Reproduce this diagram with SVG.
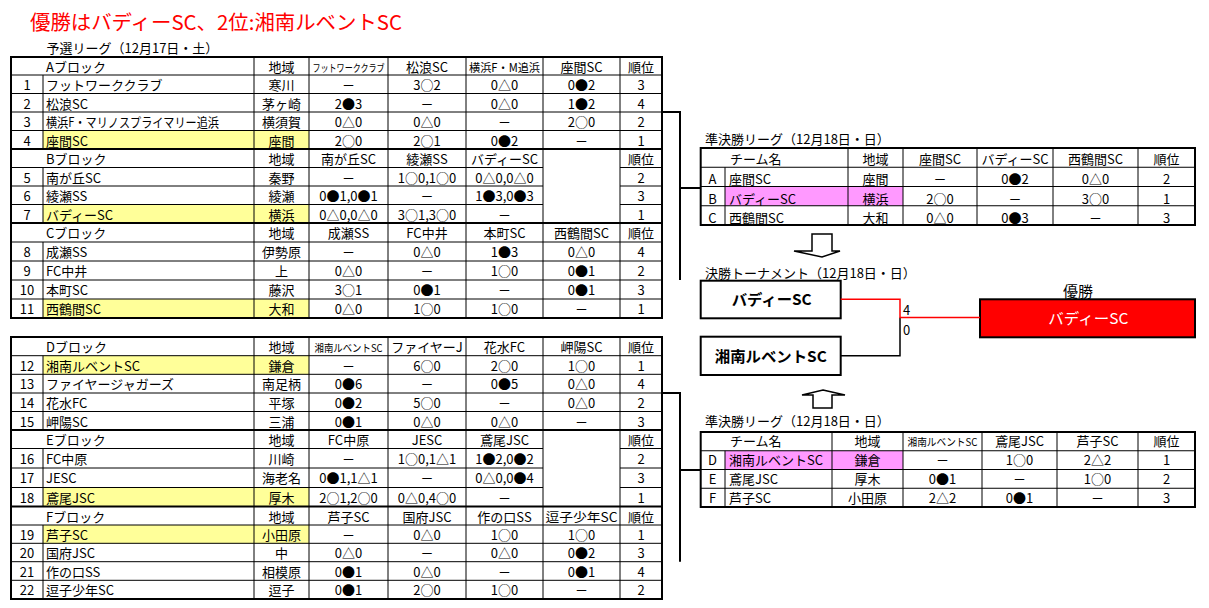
<svg xmlns="http://www.w3.org/2000/svg" width="1209" height="608" viewBox="0 0 1209 608">
<style>
text{font-family:"Noto Sans CJK JP","Liberation Sans",sans-serif;font-size:13px;fill:#000}
.c{text-anchor:middle}
.thin{stroke:#000;stroke-width:1;fill:none}
.thick{stroke:#000;stroke-width:2;fill:none}
.yel{fill:#FFFF99}
.pink{fill:#FF99FF}
.box{fill:#fff;stroke:#000;stroke-width:2}
.bx{font-weight:bold;font-size:15px}
</style>
<rect width="1209" height="608" fill="#fff"/>
<g id="title">
<text x="30" y="30" style="font-size:20px;fill:#FF0000" textLength="372" lengthAdjust="spacingAndGlyphs">優勝はバディーSC、2位:湘南ルベントSC</text>
<text x="46.5" y="53">予選リーグ（12月17日・土）</text>
</g>

<g id="league-top">
<rect class="yel" x="43" y="130.5" width="266" height="18.5"/>
<rect class="yel" x="43" y="204.5" width="266" height="18.5"/>
<rect class="yel" x="43" y="299" width="266" height="19"/>
<path class="thin" d="M11,75H662M11,93.5H662M11,112H662M11,130.5H662M11,167.5H543M620,167.5H662M11,186H543M620,186H662M11,204.5H543M620,204.5H662M11,242H662M11,261H662M11,280H662M11,299H662M43,75V149M43,167.5V223M43,242V318M254,57V318M309,57V318M388,57V318M466,57V318M543,57V318M620,57V318"/>
<path class="thick" d="M11,149H662M11,223H662"/>
<rect class="thick" x="11" y="57" width="651" height="261"/>
<!-- A block -->
<text x="46" y="72">Aブロック</text>
<text class="c" x="281.5" y="72">地域</text>
<text class="c" x="348.5" y="72" style="font-size:10.5px" textLength="72" lengthAdjust="spacingAndGlyphs">フットワーククラブ</text>
<text class="c" x="427" y="72">松浪SC</text>
<text class="c" x="504.5" y="72" style="font-size:11.5px" textLength="71" lengthAdjust="spacingAndGlyphs">横浜F・M追浜</text>
<text class="c" x="581.5" y="72">座間SC</text>
<text class="c" x="641" y="72">順位</text>

<text class="c" x="27" y="90">1</text><text x="46" y="90">フットワーククラブ</text><text class="c" x="281.5" y="90">寒川</text>
<text class="c" x="348.5" y="90">－</text><text class="c" x="427" y="90">3○2</text><text class="c" x="504.5" y="90">0△0</text><text class="c" x="581.5" y="90">0●2</text><text class="c" x="641" y="90">3</text>

<text class="c" x="27" y="108.5">2</text><text x="46" y="108.5">松浪SC</text><text class="c" x="281.5" y="108.5">茅ヶ崎</text>
<text class="c" x="348.5" y="108.5">2●3</text><text class="c" x="427" y="108.5">－</text><text class="c" x="504.5" y="108.5">0△0</text><text class="c" x="581.5" y="108.5">1●2</text><text class="c" x="641" y="108.5">4</text>

<text class="c" x="27" y="127">3</text><text x="46" y="127" textLength="173" lengthAdjust="spacingAndGlyphs">横浜F・マリノスプライマリー追浜</text><text class="c" x="281.5" y="127">横須賀</text>
<text class="c" x="348.5" y="127">0△0</text><text class="c" x="427" y="127">0△0</text><text class="c" x="504.5" y="127">－</text><text class="c" x="581.5" y="127">2○0</text><text class="c" x="641" y="127">2</text>

<text class="c" x="27" y="145.5">4</text><text x="46" y="145.5">座間SC</text><text class="c" x="281.5" y="145.5">座間</text>
<text class="c" x="348.5" y="145.5">2○0</text><text class="c" x="427" y="145.5">2○1</text><text class="c" x="504.5" y="145.5">0●2</text><text class="c" x="581.5" y="145.5">－</text><text class="c" x="641" y="145.5">1</text>
<!-- B block -->
<text x="46" y="164">Bブロック</text>
<text class="c" x="281.5" y="164">地域</text>
<text class="c" x="348.5" y="164">南が丘SC</text>
<text class="c" x="427" y="164">綾瀬SS</text>
<text class="c" x="504.5" y="164">バディーSC</text>
<text class="c" x="641" y="164">順位</text>

<text class="c" x="27" y="182.5">5</text><text x="46" y="182.5">南が丘SC</text><text class="c" x="281.5" y="182.5">秦野</text>
<text class="c" x="348.5" y="182.5">－</text><text class="c" x="427" y="182.5">1○0,1○0</text><text class="c" x="504.5" y="182.5">0△0,0△0</text><text class="c" x="641" y="182.5">2</text>

<text class="c" x="27" y="201">6</text><text x="46" y="201">綾瀬SS</text><text class="c" x="281.5" y="201">綾瀬</text>
<text class="c" x="348.5" y="201">0●1,0●1</text><text class="c" x="427" y="201">－</text><text class="c" x="504.5" y="201">1●3,0●3</text><text class="c" x="641" y="201">3</text>

<text class="c" x="27" y="219.5">7</text><text x="46" y="219.5">バディーSC</text><text class="c" x="281.5" y="219.5">横浜</text>
<text class="c" x="348.5" y="219.5">0△0,0△0</text><text class="c" x="427" y="219.5">3○1,3○0</text><text class="c" x="504.5" y="219.5">－</text><text class="c" x="641" y="219.5">1</text>
<!-- C block -->
<text x="46" y="238">Cブロック</text>
<text class="c" x="281.5" y="238">地域</text>
<text class="c" x="348.5" y="238">成瀬SS</text>
<text class="c" x="427" y="238">FC中井</text>
<text class="c" x="504.5" y="238">本町SC</text>
<text class="c" x="581.5" y="238">西鶴間SC</text>
<text class="c" x="641" y="238">順位</text>

<text class="c" x="27" y="257">8</text><text x="46" y="257">成瀬SS</text><text class="c" x="281.5" y="257">伊勢原</text>
<text class="c" x="348.5" y="257">－</text><text class="c" x="427" y="257">0△0</text><text class="c" x="504.5" y="257">1●3</text><text class="c" x="581.5" y="257">0△0</text><text class="c" x="641" y="257">4</text>

<text class="c" x="27" y="276">9</text><text x="46" y="276">FC中井</text><text class="c" x="281.5" y="276">上</text>
<text class="c" x="348.5" y="276">0△0</text><text class="c" x="427" y="276">－</text><text class="c" x="504.5" y="276">1○0</text><text class="c" x="581.5" y="276">0●1</text><text class="c" x="641" y="276">2</text>

<text class="c" x="27" y="295">10</text><text x="46" y="295">本町SC</text><text class="c" x="281.5" y="295">藤沢</text>
<text class="c" x="348.5" y="295">3○1</text><text class="c" x="427" y="295">0●1</text><text class="c" x="504.5" y="295">－</text><text class="c" x="581.5" y="295">0●1</text><text class="c" x="641" y="295">3</text>

<text class="c" x="27" y="314">11</text><text x="46" y="314">西鶴間SC</text><text class="c" x="281.5" y="314">大和</text>
<text class="c" x="348.5" y="314">0△0</text><text class="c" x="427" y="314">1○0</text><text class="c" x="504.5" y="314">1○0</text><text class="c" x="581.5" y="314">－</text><text class="c" x="641" y="314">1</text>
</g>

<g id="league-bottom">
<rect class="yel" x="43" y="355.7" width="266" height="18.6"/>
<rect class="yel" x="43" y="487.5" width="266" height="19"/>
<rect class="yel" x="43" y="525" width="266" height="18.3"/>
<path class="thin" d="M11,355.7H662M11,374.3H662M11,393H662M11,411.5H662M11,448.5H543M620,448.5H662M11,468H543M620,468H662M11,487.5H543M620,487.5H662M11,525H662M11,543.3H662M11,561.7H662M11,580.3H662M43,355.7V430M43,448.5V506.5M43,525V599M254,337V599M309,337V599M388,337V599M466,337V599M543,337V599M620,337V599"/>
<path class="thick" d="M11,430H662M11,506.5H662"/>
<rect class="thick" x="11" y="337" width="651" height="262"/>
<!-- D block -->
<text x="46" y="352">Dブロック</text>
<text class="c" x="281.5" y="352">地域</text>
<text class="c" x="348.5" y="352" style="font-size:10.5px" textLength="68" lengthAdjust="spacingAndGlyphs">湘南ルベントSC</text>
<text class="c" x="427" y="352">ファイヤーJ</text>
<text class="c" x="504.5" y="352">花水FC</text>
<text class="c" x="581.5" y="352">岬陽SC</text>
<text class="c" x="641" y="352">順位</text>

<text class="c" x="27" y="370.7">12</text><text x="46" y="370.7">湘南ルベントSC</text><text class="c" x="281.5" y="370.7">鎌倉</text>
<text class="c" x="348.5" y="370.7">－</text><text class="c" x="427" y="370.7">6○0</text><text class="c" x="504.5" y="370.7">2○0</text><text class="c" x="581.5" y="370.7">1○0</text><text class="c" x="641" y="370.7">1</text>

<text class="c" x="27" y="389.3">13</text><text x="46" y="389.3">ファイヤージャガーズ</text><text class="c" x="281.5" y="389.3">南足柄</text>
<text class="c" x="348.5" y="389.3">0●6</text><text class="c" x="427" y="389.3">－</text><text class="c" x="504.5" y="389.3">0●5</text><text class="c" x="581.5" y="389.3">0△0</text><text class="c" x="641" y="389.3">4</text>

<text class="c" x="27" y="408">14</text><text x="46" y="408">花水FC</text><text class="c" x="281.5" y="408">平塚</text>
<text class="c" x="348.5" y="408">0●2</text><text class="c" x="427" y="408">5○0</text><text class="c" x="504.5" y="408">－</text><text class="c" x="581.5" y="408">0△0</text><text class="c" x="641" y="408">2</text>

<text class="c" x="27" y="426.5">15</text><text x="46" y="426.5">岬陽SC</text><text class="c" x="281.5" y="426.5">三浦</text>
<text class="c" x="348.5" y="426.5">0●1</text><text class="c" x="427" y="426.5">0△0</text><text class="c" x="504.5" y="426.5">0△0</text><text class="c" x="581.5" y="426.5">－</text><text class="c" x="641" y="426.5">3</text>
<!-- E block -->
<text x="46" y="445">Eブロック</text>
<text class="c" x="281.5" y="445">地域</text>
<text class="c" x="348.5" y="445">FC中原</text>
<text class="c" x="427" y="445">JESC</text>
<text class="c" x="504.5" y="445">鳶尾JSC</text>
<text class="c" x="641" y="445">順位</text>

<text class="c" x="27" y="463.5">16</text><text x="46" y="463.5">FC中原</text><text class="c" x="281.5" y="463.5">川崎</text>
<text class="c" x="348.5" y="463.5">－</text><text class="c" x="427" y="463.5">1○0,1△1</text><text class="c" x="504.5" y="463.5">1●2,0●2</text><text class="c" x="641" y="463.5">2</text>

<text class="c" x="27" y="483">17</text><text x="46" y="483">JESC</text><text class="c" x="281.5" y="483">海老名</text>
<text class="c" x="348.5" y="483">0●1,1△1</text><text class="c" x="427" y="483">－</text><text class="c" x="504.5" y="483">0△0,0●4</text><text class="c" x="641" y="483">3</text>

<text class="c" x="27" y="502.5">18</text><text x="46" y="502.5">鳶尾JSC</text><text class="c" x="281.5" y="502.5">厚木</text>
<text class="c" x="348.5" y="502.5">2○1,2○0</text><text class="c" x="427" y="502.5">0△0,4○0</text><text class="c" x="504.5" y="502.5">－</text><text class="c" x="641" y="502.5">1</text>
<!-- F block -->
<text x="46" y="521.5">Fブロック</text>
<text class="c" x="281.5" y="521.5">地域</text>
<text class="c" x="348.5" y="521.5">芦子SC</text>
<text class="c" x="427" y="521.5">国府JSC</text>
<text class="c" x="504.5" y="521.5">作の口SS</text>
<text class="c" x="581.5" y="521.5" style="font-size:12.5px" textLength="72" lengthAdjust="spacingAndGlyphs">逗子少年SC</text>
<text class="c" x="641" y="521.5">順位</text>

<text class="c" x="27" y="540">19</text><text x="46" y="540">芦子SC</text><text class="c" x="281.5" y="540">小田原</text>
<text class="c" x="348.5" y="540">－</text><text class="c" x="427" y="540">0△0</text><text class="c" x="504.5" y="540">1○0</text><text class="c" x="581.5" y="540">1○0</text><text class="c" x="641" y="540">1</text>

<text class="c" x="27" y="558.3">20</text><text x="46" y="558.3">国府JSC</text><text class="c" x="281.5" y="558.3">中</text>
<text class="c" x="348.5" y="558.3">0△0</text><text class="c" x="427" y="558.3">－</text><text class="c" x="504.5" y="558.3">0△0</text><text class="c" x="581.5" y="558.3">0●2</text><text class="c" x="641" y="558.3">3</text>

<text class="c" x="27" y="576.7">21</text><text x="46" y="576.7">作の口SS</text><text class="c" x="281.5" y="576.7">相模原</text>
<text class="c" x="348.5" y="576.7">0●1</text><text class="c" x="427" y="576.7">0△0</text><text class="c" x="504.5" y="576.7">－</text><text class="c" x="581.5" y="576.7">0●1</text><text class="c" x="641" y="576.7">4</text>

<text class="c" x="27" y="595.3">22</text><text x="46" y="595.3">逗子少年SC</text><text class="c" x="281.5" y="595.3">逗子</text>
<text class="c" x="348.5" y="595.3">0●1</text><text class="c" x="427" y="595.3">2○0</text><text class="c" x="504.5" y="595.3">1○0</text><text class="c" x="581.5" y="595.3">－</text><text class="c" x="641" y="595.3">2</text>
</g>

<g id="semifinal-1">
<text x="705" y="144">準決勝リーグ（12月18日・日）</text>
<rect class="pink" x="725" y="186.5" width="178" height="19.25"/>
<path class="thin" d="M700.7,167.25H1195M700.7,186.5H1195M700.7,205.75H1195M725,167.25V225M848,148V225M903,148V225M977,148V225M1053,148V225M1138,148V225"/>
<rect class="thick" x="700.7" y="148" width="494.3" height="77"/>
<text x="730" y="164">チーム名</text>
<text class="c" x="875.5" y="164">地域</text>
<text class="c" x="940" y="164">座間SC</text>
<text class="c" x="1015" y="164">バディーSC</text>
<text class="c" x="1095.5" y="164">西鶴間SC</text>
<text class="c" x="1166.5" y="164">順位</text>

<text class="c" x="712.5" y="184">A</text><text x="729" y="184">座間SC</text><text class="c" x="875.5" y="184">座間</text>
<text class="c" x="940" y="184">－</text><text class="c" x="1015" y="184">0●2</text><text class="c" x="1095.5" y="184">0△0</text><text class="c" x="1166.5" y="184">2</text>

<text class="c" x="712.5" y="203.5">B</text><text x="729" y="203.5">バディーSC</text><text class="c" x="875.5" y="203.5">横浜</text>
<text class="c" x="940" y="203.5">2○0</text><text class="c" x="1015" y="203.5">－</text><text class="c" x="1095.5" y="203.5">3○0</text><text class="c" x="1166.5" y="203.5">1</text>

<text class="c" x="712.5" y="222.5">C</text><text x="729" y="222.5">西鶴間SC</text><text class="c" x="875.5" y="222.5">大和</text>
<text class="c" x="940" y="222.5">0△0</text><text class="c" x="1015" y="222.5">0●3</text><text class="c" x="1095.5" y="222.5">－</text><text class="c" x="1166.5" y="222.5">3</text>
</g>

<g id="semifinal-2">
<text x="705" y="426">準決勝リーグ（12月18日・日）</text>
<rect class="pink" x="725" y="450.75" width="178" height="18.75"/>
<path class="thin" d="M700.7,450.75H1195M700.7,469.5H1195M700.7,488.25H1195M725,450.75V507M832,432V507M903,432V507M982,432V507M1057,432V507M1138,432V507"/>
<rect class="thick" x="700.7" y="432" width="494.3" height="75"/>
<text x="730" y="446">チーム名</text>
<text class="c" x="867.5" y="446">地域</text>
<text class="c" x="942.5" y="446" style="font-size:10.5px" textLength="70" lengthAdjust="spacingAndGlyphs">湘南ルベントSC</text>
<text class="c" x="1019.5" y="446">鳶尾JSC</text>
<text class="c" x="1097.5" y="446">芦子SC</text>
<text class="c" x="1166.5" y="446">順位</text>

<text class="c" x="712.5" y="464.5">D</text><text x="729" y="464.5">湘南ルベントSC</text><text class="c" x="867.5" y="464.5">鎌倉</text>
<text class="c" x="942.5" y="464.5">－</text><text class="c" x="1019.5" y="464.5">1○0</text><text class="c" x="1097.5" y="464.5">2△2</text><text class="c" x="1166.5" y="464.5">1</text>

<text class="c" x="712.5" y="484">E</text><text x="729" y="484">鳶尾JSC</text><text class="c" x="867.5" y="484">厚木</text>
<text class="c" x="942.5" y="484">0●1</text><text class="c" x="1019.5" y="484">－</text><text class="c" x="1097.5" y="484">1○0</text><text class="c" x="1166.5" y="484">2</text>

<text class="c" x="712.5" y="502.5">F</text><text x="729" y="502.5">芦子SC</text><text class="c" x="867.5" y="502.5">小田原</text>
<text class="c" x="942.5" y="502.5">2△2</text><text class="c" x="1019.5" y="502.5">0●1</text><text class="c" x="1097.5" y="502.5">－</text><text class="c" x="1166.5" y="502.5">3</text>
</g>

<g id="final-label">
<text x="705" y="277.5">決勝トーナメント（12月18日・日）</text>
</g>
<g id="final-team-1">
<rect class="box" x="700.7" y="280.7" width="140" height="37.6"/>
<text class="c bx" x="771.7" y="305" textLength="80" lengthAdjust="spacingAndGlyphs">バディーSC</text>
</g>
<g id="final-team-2">
<rect class="box" x="700.7" y="336.7" width="140" height="38.3"/>
<text class="c bx" x="770.8" y="362" textLength="112" lengthAdjust="spacingAndGlyphs">湘南ルベントSC</text>
</g>
<g id="champion">
<text class="c" x="1078" y="297" style="font-size:15px">優勝</text>
<rect x="980" y="299.3" width="215" height="38" fill="#FF0000" stroke="#000" stroke-width="2"/>
<text class="c" x="1088.3" y="324" style="font-size:15px;fill:#fff" textLength="80" lengthAdjust="spacingAndGlyphs">バディーSC</text>
</g>

<g id="connectors">
<path class="thick" d="M662,112H680V280M680,188H700.7"/>
<path class="thick" d="M662,393H680V561.7M680,470H700.7"/>
<path d="M840.7,355.7H900V317.5" fill="none" stroke="#000" stroke-width="1.5"/>
<path d="M840.7,299.3H900V317.5H980" fill="none" stroke="#FF0000" stroke-width="1.5"/>
<text x="903" y="315">4</text>
<text x="903" y="335">0</text>
<polygon points="812,234 832,234 832,251 840,251 822,257 794,251 812,251" fill="#fff" stroke="#000" stroke-width="1.5"/>
<polygon points="823,390 845,395 832,395 832,408 813,408 813,395 802,395" fill="#fff" stroke="#000" stroke-width="1.5"/>
</g>
</svg>
